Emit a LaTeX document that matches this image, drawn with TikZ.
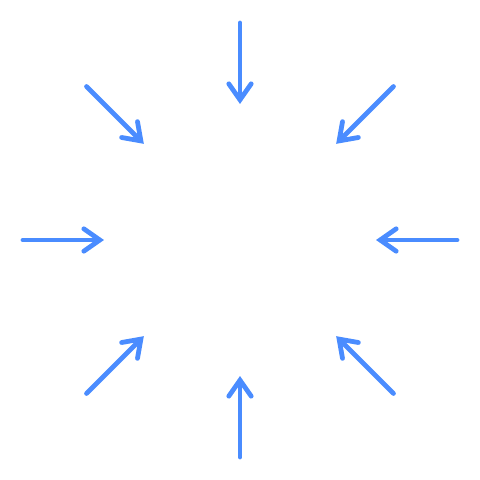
\documentclass[tikz,border=0pt]{standalone}
\usepackage{tikz}
\usetikzlibrary{arrows.meta,calc}
\definecolor{rayblue}{RGB}{74,140,255}

\begin{document}
\begin{tikzpicture}[x=0.025cm,y=0.025cm,
                    ray/.style={rayblue,line width=3.4pt,line cap=round,line join=round,
                                -{Straight Barb[length=0.4cm,width=0.56cm,line cap=round]}}]
                      \useasboundingbox (-240,-240) rectangle (240,240);
                      \coordinate (O) at (0,0);
                      \foreach \a in {0,45,...,315}
                      {
                        \coordinate (s\a) at ($(O)+(\a:217)$);
                        \coordinate (e\a) at ($(O)+(\a:136)$);
                        \draw[ray] (s\a) -- (e\a);
                      }
                  \end{tikzpicture}
\end{document}
